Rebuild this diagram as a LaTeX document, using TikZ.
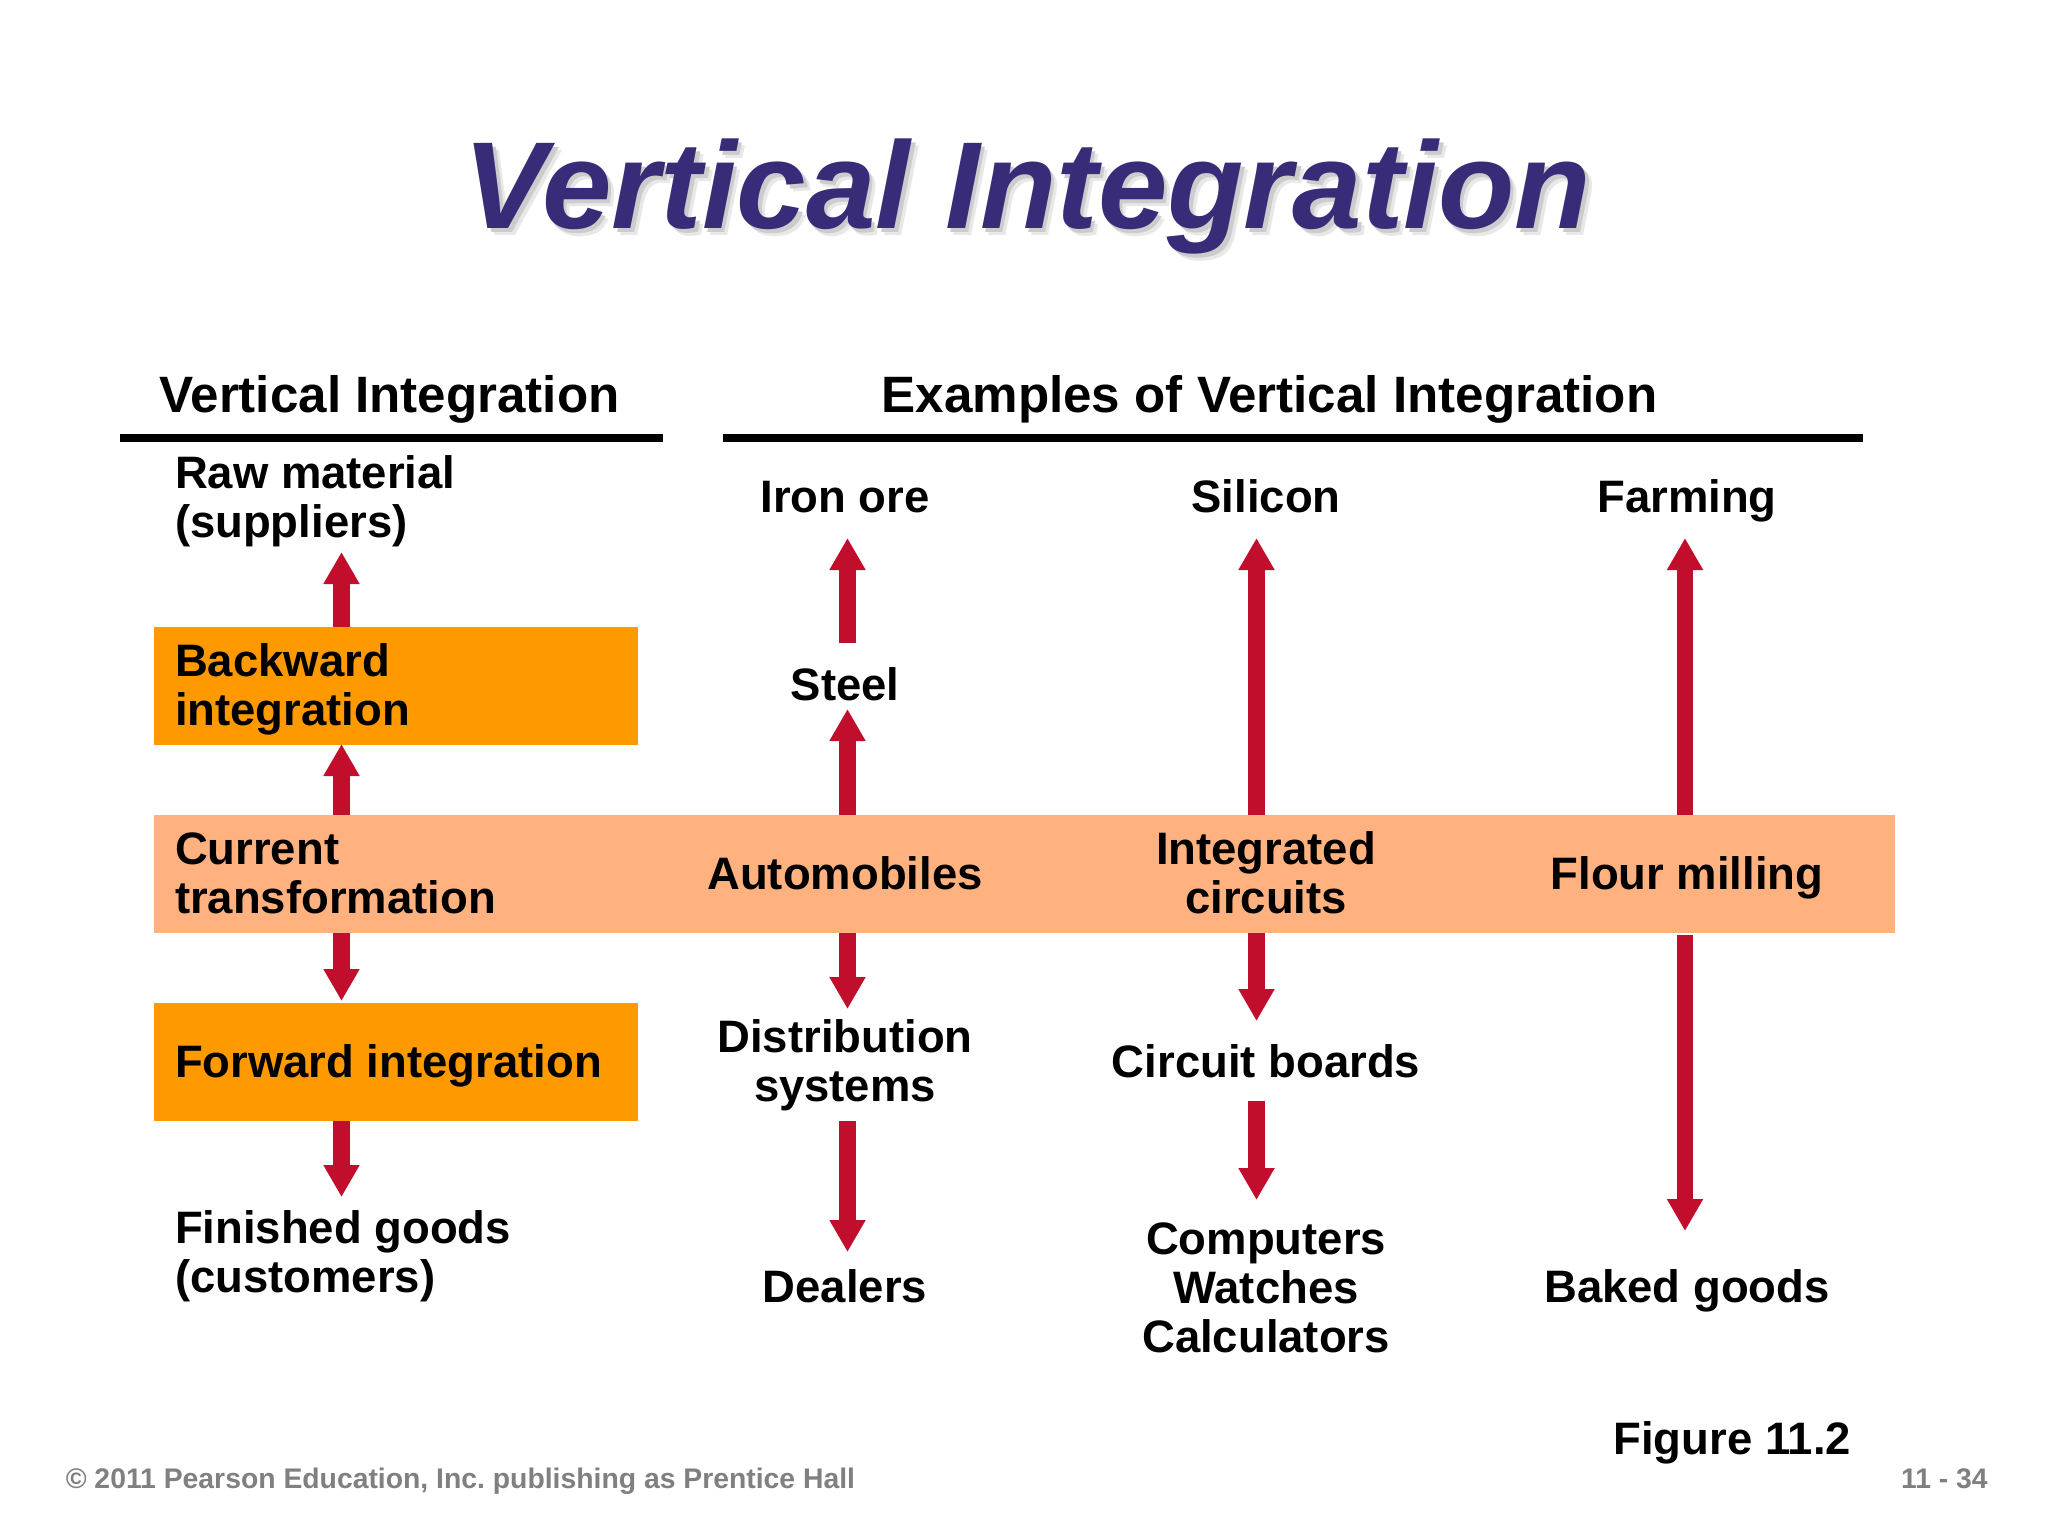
\documentclass[tikz,border=0pt]{standalone}
\usepackage{fontspec}
\setmainfont{Liberation Sans}
\usetikzlibrary{arrows.meta}
\definecolor{titleblue}{RGB}{56,44,120}
\definecolor{arrowred}{RGB}{192,14,44}
\definecolor{boxorange}{RGB}{255,153,0}
\definecolor{bandpeach}{RGB}{255,178,128}
\definecolor{footgray}{RGB}{128,128,128}
\tikzset{
  x=0.75pt,y=-0.75pt,
  lbl/.style={inner sep=0pt,outer sep=0pt,font=\fontsize{34.1}{36.7}\selectfont\bfseries,text=black},
  lleft/.style={lbl,anchor=base west,align=left},
  lmid/.style={lbl,anchor=base,align=center},
  head/.style={inner sep=0pt,anchor=base,font=\fontsize{38.35}{38}\selectfont\bfseries,text=black},
  rulebar/.style={draw=black,line width=6pt},
  orangebox/.style={fill=boxorange,draw=none},
  band/.style={fill=bandpeach,draw=none},
  bigarrow/.style={draw=arrowred,line width=12.5pt,-{Triangle[width=25.5pt,length=24pt,fill=arrowred]}},
  foot/.style={inner sep=0pt,text=footgray,font=\fontsize{21.25}{22}\selectfont\bfseries},
  titlefont/.style={inner sep=0pt,anchor=base,yscale=0.99,transform shape,font=\fontsize{93.75}{94}\selectfont\bfseries\itshape},
}
\begin{document}
\frenchspacing
\begin{tikzpicture}
\useasboundingbox (0,0) rectangle (2048,1536);
\fill[white] (0,0) rectangle (2048,1536);
% title
\node[titlefont,text=black!9] (titleshadowb) at (1034,235) {Vertical Integration};
\node[titlefont,text=black!20] (titleshadow) at (1031,232) {Vertical Integration};
\node[titlefont,text=titleblue] (title) at (1027.5,228) {Vertical Integration};
% headers
\node[head] (hleft) at (389.5,412) {Vertical Integration};
\node[head] (hright) at (1269.5,412) {Examples of Vertical Integration};
\coordinate (r1a) at (120,438); \coordinate (r1b) at (663,438);
\coordinate (r2a) at (723,438); \coordinate (r2b) at (1863,438);
\draw[rulebar] (r1a) -- (r1b);
\draw[rulebar] (r2a) -- (r2b);
% boxes
\path[orangebox] (153.5,627) rectangle (637.5,745);
\path[band] (153.5,815) rectangle (1894.5,933);
\path[orangebox] (153.5,1003) rectangle (637.5,1121);
% arrows
\foreach \n/\x/\ya/\yb in {
  a/341.5/627/552, b/341.5/815/744, c/341.5/933/1001, d/341.5/1121/1197,
  e/847.5/642.5/538, f/847.5/815/709, g/847.5/933/1009, h/847.5/1121/1252,
  i/1256.5/815/538, j/1256.5/933/1021, k/1256.5/1101/1200,
  l/1685/815/538, m/1685/935/1231}{
  \coordinate (\n s) at (\x,\ya);
  \coordinate (\n e) at (\x,\yb);
  \draw[bigarrow] (\n s) -- (\n e);
}
% left column
\node[lleft] (raw) at (175,537) {Raw material\\(suppliers)};
\node[lleft] (back) at (175,725.5) {Backward\\integration};
\node[lleft] (curr) at (175,913) {Current\\transformation};
\node[lleft] (fwd) at (175,1077) {Forward integration};
\node[lleft] (fin) at (175,1292) {Finished goods\\(customers)};
% col 2
\node[lmid] (iron) at (845,512) {Iron ore};
\node[lmid] (steel) at (845,700) {Steel};
\node[lmid] (auto) at (845,889) {Automobiles};
\node[lmid] (dist) at (845,1101.5) {Distribution\\systems};
\node[lmid] (deal) at (845,1302) {Dealers};
% col 3
\node[lmid] (sili) at (1266,512) {Silicon};
\node[lmid] (ic) at (1266,913) {Integrated\\circuits};
\node[lmid] (cb) at (1266,1077) {Circuit boards};
\node[lmid] (comp) at (1266,1352) {Computers\\Watches\\Calculators};
% col 4
\node[lmid] (farm) at (1687,512) {Farming};
\node[lmid] (flour) at (1687,889) {Flour milling};
\node[lmid] (baked) at (1687,1302) {Baked goods};
% footer
\node[lbl,anchor=base east] (fig) at (1851,1454) {Figure 11.2};
\node[foot,anchor=base west] (copy) at (65.5,1488.5) {© 2011 Pearson Education, Inc. publishing as Prentice Hall};
\node[foot,anchor=base east] (page) at (1988,1488.5) {11 - 34};
\end{tikzpicture}
\end{document}
